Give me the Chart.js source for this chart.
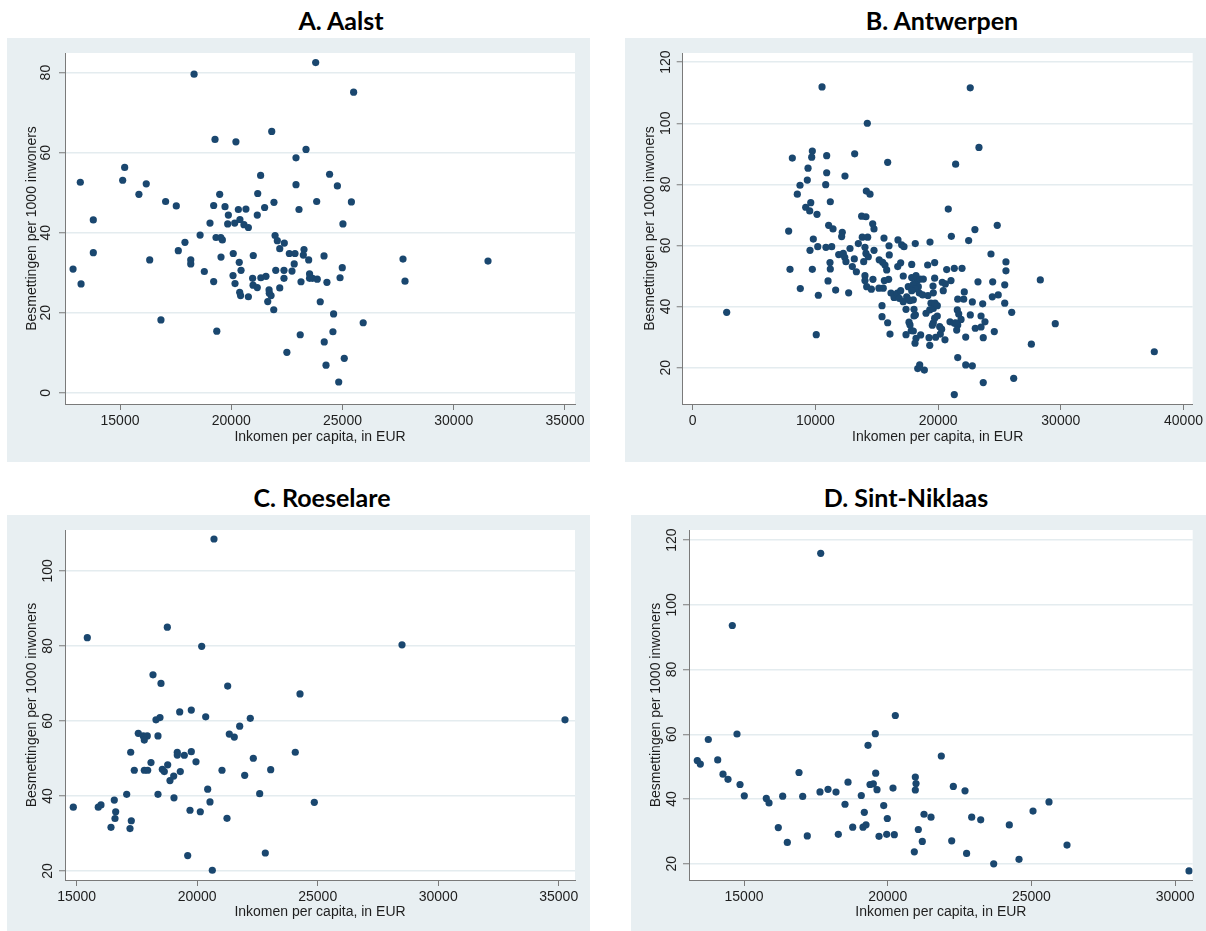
<!DOCTYPE html>
<html><head><meta charset="utf-8">
<script src="https://cdn.jsdelivr.net/npm/chart.js@4.4.1/dist/chart.umd.min.js"></script>
<style>
html,body{margin:0;padding:0;background:#fff;width:1206px;height:931px;overflow:hidden;}
canvas{position:absolute;}
.ttl{position:absolute;font-family:Lato,'Liberation Sans',sans-serif;font-weight:700;font-size:25px;color:#000;white-space:nowrap;transform:translate(-50%,-50%);}
</style></head><body>
<div class="ttl" id="tA" style="left:341px;top:20px"></div>
<div class="ttl" id="tB" style="left:942px;top:20px"></div>
<div class="ttl" id="tC" style="left:322px;top:497px"></div>
<div class="ttl" id="tD" style="left:906px;top:497px"></div>
<canvas id="cA" width="583" height="424" style="left:7px;top:38px"></canvas>
<canvas id="cB" width="581" height="424" style="left:625px;top:38px"></canvas>
<canvas id="cC" width="583" height="416" style="left:7px;top:515px"></canvas>
<canvas id="cD" width="575" height="416" style="left:631px;top:515px"></canvas>
<script>
const titles = ['A. Aalst', 'B. Antwerpen', 'C. Roeselare', 'D. Sint-Niklaas'];
const xAxisTitle = 'Inkomen per capita, in EUR';
const yAxisTitle = 'Besmettingen per 1000 inwoners';

// [income per capita (EUR), infections per 1000 inhabitants]
const aalst = [[13216,52.6],[13800,43.2],[13800,35.0],[15120,53.1],[15210,56.3],[15850,49.6],[16180,52.2],[17050,47.8],[17530,46.7],[18330,79.6],[19270,63.3],[20210,62.7],[21820,65.3],[23795,82.5],[25500,75.1],[22910,58.7],[23360,60.8],[21320,54.3],[24420,54.6],[22910,52.0],[24770,51.7],[23840,47.8],[25400,47.7],[23045,45.8],[25020,42.2],[19480,49.6],[19210,46.8],[19720,46.5],[19870,44.4],[20320,45.8],[20660,45.9],[21190,49.8],[21170,44.4],[21500,46.3],[21920,47.6],[19045,42.4],[19840,42.2],[20155,42.4],[20390,43.3],[20570,42.0],[20770,41.3],[18600,39.4],[19315,38.8],[19600,38.2],[19530,38.8],[17920,37.6],[17620,35.5],[21970,39.3],[22070,38.0],[22385,37.4],[22180,36.0],[22610,34.8],[22865,34.8],[23270,35.8],[23240,34.4],[24170,34.2],[23480,33.2],[20090,34.8],[20990,34.3],[19540,33.9],[16335,33.2],[18180,33.2],[18180,32.2],[18790,30.3],[19210,27.8],[20360,32.6],[20440,30.6],[20080,29.3],[20170,27.3],[20380,25.1],[20420,24.3],[20770,24.0],[20960,28.6],[20980,26.9],[21170,26.3],[21330,28.75],[21560,29.1],[22000,30.6],[22370,30.6],[22730,30.4],[22370,28.6],[22180,26.2],[21700,25.7],[21710,24.9],[21790,24.3],[21640,22.8],[21910,20.75],[22830,32.2],[23135,27.75],[23520,29.7],[23520,28.6],[23655,28.6],[23865,28.4],[24300,27.6],[24890,28.75],[24990,31.25],[24000,22.75],[24600,19.7],[25930,17.5],[24570,15.25],[23100,14.5],[24180,12.7],[22500,10.1],[25080,8.6],[24260,6.9],[24830,2.7],[19350,15.4],[12890,30.9],[13250,27.2],[16840,18.2],[27720,33.4],[27810,27.9],[31540,32.9]];

const antwerpen = [[10540,111.9],[14230,100],[8120,88.6],[9750,90.9],[9700,88.9],[10920,89.4],[13200,90],[15890,87.2],[9400,85.3],[10920,83.8],[12410,82.7],[9340,81.4],[8745,79.7],[10840,79.9],[8525,76.8],[14150,77.8],[14450,76.8],[9620,74],[9210,72.5],[9535,71.3],[11215,74.3],[10130,70.2],[13770,69.6],[14120,69.4],[7820,64.7],[11080,66.6],[11435,65.4],[14670,67.1],[14775,65.4],[12190,64.3],[12140,62.9],[9830,62.1],[13820,62.7],[14260,62.7],[15590,62.4],[16730,61.8],[17030,60.2],[17220,59.6],[18140,60.6],[10190,59.6],[10860,59.4],[11330,59.6],[9560,58.4],[13500,60.6],[12820,59],[14040,59.4],[16000,59.9],[14775,58.4],[11900,57],[12270,57.4],[12390,56.1],[12490,54.7],[13170,55.6],[14120,57.4],[14310,56.3],[13935,54.7],[16020,56.9],[15200,55.3],[15480,54.5],[15670,53.6],[16950,54.3],[16710,53.1],[17850,53.8],[11190,54.4],[13010,53.1],[7930,52.2],[9750,52.2],
[2770,38.1],[10070,30.8],[8770,45.9],[10240,43.7],[11030,48.4],[11215,52.3],[11650,45.4],[12710,44.5],[13340,51.4],[14040,50.1],[14040,48.5],[14180,46.5],[14560,45.7],[14690,48.9],[15810,52],[15970,48.9],[15620,48.5],[15530,46],[15180,46],[16160,44.4],[16410,43],[16675,44.4],[16950,45.2],[16840,42.7],[17160,41.6],[17440,43.2],[17710,41.9],[15430,40.3],[15430,36.7],[15890,34.7],[16080,31],[17385,39.1],[17630,34.9],[17815,32.1],[17385,30.8],[18035,36.9],[18035,39.1],[18200,29.6],[18120,28],[18340,19.7],[18500,20.9],[17160,50],[17850,49.5],[18255,48.2],[18390,46.5],[17570,46.5],[18470,44.4],
[37620,25.2],[29550,34.4],[28330,48.7],[27600,27.7],[26160,16.5],[23680,15.1],[21320,11.2],[21600,23.3],[22250,20.9],[22790,20.6],[18880,19.2],[23680,29.8],[22250,30],[24580,31.8],[26000,38.1],[25430,41.1],[25430,47.1],[25530,51.7],[25530,54.6],[24900,43.8],[24420,43.2],[24450,48.1],[23250,48.1],[23635,40.9],[22790,41.5],[22135,44.8],[22085,42.4],[21600,42.4],[22625,37.25],[23500,36.9],[23820,35],[23500,33.3],[23030,32.9],[21565,38.9],[21680,37.6],[21870,35.8],[20970,35],[21320,34.5],[21600,34],[21515,32.3],[21430,34.7],[20560,29.1],[19800,29.95],[20180,31],[20130,33.4],[19610,34.7],[19530,33.9],[19720,36.2],[19935,36.9],[19260,29.8],[19320,27.3],[19015,37.8],[19320,38.9],[19420,41.1],[19610,39.4],[19750,41.1],[19175,43.6],[19610,44.5],[19585,46.7],[19720,49.3],[20340,47.95],[20590,47.4],[20420,45.2],[21050,48.5],[20700,52.1],[21320,52.5],[21950,52.5],[19150,53.6],[19720,54.4],[18200,50.1],[18530,49],[18795,49],[17980,47.3],[18120,45.8],[17850,45.2],[17630,42.2],[17980,42.2],[18745,43.8],[18150,37.3],[17710,34],[17980,32],[18580,30.7],[19935,40.3],[20290,32.6],
[22620,111.6],[23330,92.1],[21430,86.6],[20830,71.9],[24820,66.6],[23000,65.2],[21080,63],[22490,61.6],[19340,61.1],[24310,57.2]];

const roeselare = [[20697,108.5],[15440,82.2],[18760,85],[20187,79.9],[18166,72.3],[18498,70],[21265,69.3],[24266,67.2],[19274,62.4],[19755,62.9],[20353,61.1],[22203,60.7],[18290,60.3],[18456,60.9],[21763,58.6],[17556,56.7],[17763,56],[17929,56],[17805,54.9],[18373,56],[21332,56.5],[21539,55.7],[14859,37],[15896,37],[16008,37.6],[16560,38.9],[16423,31.65],[16589,34],[16618,35.8],[17212,31.3],[17266,33.4],[17075,40.45],[17241,51.65],[17390,46.85],[17805,46.85],[17946,46.85],[18083,48.9],[18373,40.45],[18552,47.1],[18635,46.5],[18776,48.3],[18871,44.1],[19025,45.3],[19037,39.5],[19174,51.65],[19174,50.9],[19299,46.5],[19465,50.85],[19755,51.8],[19950,49.1],[19701,36.2],[19606,24.1],[20129,35.8],[20436,41.8],[20531,38.4],[20627,20.2],[21029,46.85],[21237,34.05],[21971,45.5],[22328,50.05],[22593,40.6],[22826,24.8],[23050,47],[24070,51.65],[24859,38.3],[28498,80.3],[35261,60.3]];

const sintNiklaas = [[17669,115.9],[14593,93.6],[20265,65.8],[13375,51.9],[13480,50.8],[13758,58.4],[14085,52.1],[14269,47.7],[14443,46.1],[14756,60.1],[14861,44.5],[15010,41],[15776,40.2],[15870,38.8],[16193,31.2],[16346,40.9],[16507,26.6],[16914,48.2],[17042,40.8],[17202,28.6],[17644,42.2],[17923,43],[18201,42.15],[18281,29.1],[18514,38.4],[18619,45.2],[18782,31.3],[19081,41.1],[19141,31.3],[19186,35.9],[19245,32.05],[19315,56.6],[19384,44.5],[19499,44.7],[19569,60.2],[19582,48],[19628,42.9],[19698,28.5],[19861,38],[19965,29.1],[19986,34],[20184,43.4],[20230,29],[20961,46.8],[20985,44.8],[20961,42.8],[20926,23.7],[21065,30.6],[21204,26.9],[21263,35.3],[21507,34.4],[21865,53.3],[22227,27.1],[22283,43.9],[22690,42.55],[22745,23.2],[22923,34.4],[23236,33.6],[23688,20],[24231,32],[24569,21.4],[25056,36.3],[25612,39.1],[26239,25.8],[30484,17.8]];

const aalstXTicks = [15000, 20000, 25000, 30000, 35000];
const aalstYTicks = [0, 20, 40, 60, 80];
const antwerpenXTicks = [0, 10000, 20000, 30000, 40000];
const antwerpenYTicks = [20, 40, 60, 80, 100, 120];
const roeselareXTicks = [15000, 20000, 25000, 30000, 35000];
const roeselareYTicks = [20, 40, 60, 80, 100];
const sintNiklaasXTicks = [15000, 20000, 25000, 30000];
const sintNiklaasYTicks = [20, 40, 60, 80, 100, 120];

// axis ranges
const aalstRange = {xMin: 12528, xMax: 35450, yMin: -2.8, yMax: 84.9};
const antwerpenRange = {xMin: -815, xMax: 40750, yMin: 8.1, yMax: 123};
const roeselareRange = {xMin: 14515, xMax: 35676, yMin: 17.6, yMax: 110.9};
const sintNiklaasRange = {xMin: 13086, xMax: 30612, yMin: 15, yMax: 123.1};

const panels = [
  {canvas: 'cA', title: 'tA', name: titles[0], data: aalst, xTicks: aalstXTicks, yTicks: aalstYTicks, range: aalstRange,
   layout: {left: 16.6, top: 15, right: 15, bottom: 16.6}, yW: 41.4, xH: 41.4, yPad: 5},
  {canvas: 'cB', title: 'tB', name: titles[1], data: antwerpen, xTicks: antwerpenXTicks, yTicks: antwerpenYTicks, range: antwerpenRange,
   layout: {left: 16.3, top: 15, right: 13.3, bottom: 16.6}, yW: 41.4, xH: 41.4, yPad: -1},
  {canvas: 'cC', title: 'tC', name: titles[2], data: roeselare, xTicks: roeselareXTicks, yTicks: roeselareYTicks, range: roeselareRange,
   layout: {left: 16.6, top: 15, right: 15, bottom: 10.6}, yW: 41.4, xH: 40.4, yPad: -1},
  {canvas: 'cD', title: 'tD', name: titles[3], data: sintNiklaas, xTicks: sintNiklaasXTicks, yTicks: sintNiklaasYTicks, range: sintNiklaasRange,
   layout: {left: 16.6, top: 15, right: 13.3, bottom: 10.6}, yW: 41.4, xH: 40.4, yPad: -0.4}
];

const BG = '#e8eff2';
const MARKER = '#1a476f';
const AXIS = '#7a7a7a';
const GRID = '#e4ecef';
const TEXT = '#1e1e1e';

const bgPlugin = {
  id: 'stataBg',
  beforeDraw(chart) {
    const {ctx, chartArea: a, width, height} = chart;
    ctx.save();
    ctx.fillStyle = BG;
    ctx.fillRect(0, 0, width, height);
    ctx.fillStyle = '#ffffff';
    ctx.fillRect(a.left, a.top, a.right - a.left, a.bottom - a.top);
    ctx.restore();
  }
};

Chart.defaults.font.family = "'Liberation Sans', Arial, sans-serif";

panels.forEach(p => {
  document.getElementById(p.title).textContent = p.name;
  new Chart(document.getElementById(p.canvas), {
    type: 'scatter',
    data: {
      datasets: [{
        data: p.data.map(d => ({x: d[0], y: d[1]})),
        backgroundColor: MARKER,
        borderWidth: 0,
        pointRadius: 3.6,
        pointHoverRadius: 3.6
      }]
    },
    options: {
      responsive: false,
      animation: false,
      events: [],
      layout: {padding: p.layout},
      plugins: {legend: {display: false}, tooltip: {enabled: false}, title: {display: false}},
      scales: {
        x: {
          type: 'linear', position: 'bottom', bounds: 'data',
          min: p.range.xMin, max: p.range.xMax,
          afterBuildTicks: s => { s.ticks = p.xTicks.map(v => ({value: v})); },
          afterFit: s => { s.height = p.xH; s.paddingLeft = 0; s.paddingRight = 0; },
          grid: {display: true, drawOnChartArea: false, drawTicks: true, tickLength: 6, tickColor: AXIS, tickWidth: 1},
          border: {display: true, color: AXIS, width: 1},
          ticks: {autoSkip: false, maxRotation: 0, minRotation: 0, padding: 3, color: TEXT, font: {size: 14},
                  callback: v => String(v)},
          title: {display: true, text: xAxisTitle, color: TEXT, font: {size: 14}, padding: 0}
        },
        y: {
          type: 'linear', position: 'left', bounds: 'data',
          min: p.range.yMin, max: p.range.yMax,
          afterBuildTicks: s => { s.ticks = p.yTicks.map(v => ({value: v})); },
          afterFit: s => { s.width = p.yW; s.paddingTop = 0; s.paddingBottom = 0; },
          grid: {display: true, drawOnChartArea: true, color: GRID, lineWidth: 1.5, drawTicks: true, tickLength: 6, tickColor: AXIS, tickWidth: 1},
          border: {display: true, color: AXIS, width: 1},
          ticks: {autoSkip: false, minRotation: 90, maxRotation: 90, crossAlign: 'center', padding: p.yPad, color: TEXT, font: {size: 14},
                  callback: v => String(v)},
          title: {display: true, text: yAxisTitle, color: TEXT, font: {size: 14}, padding: 0}
        }
      }
    },
    plugins: [bgPlugin]
  });
});
</script>
</body></html>
